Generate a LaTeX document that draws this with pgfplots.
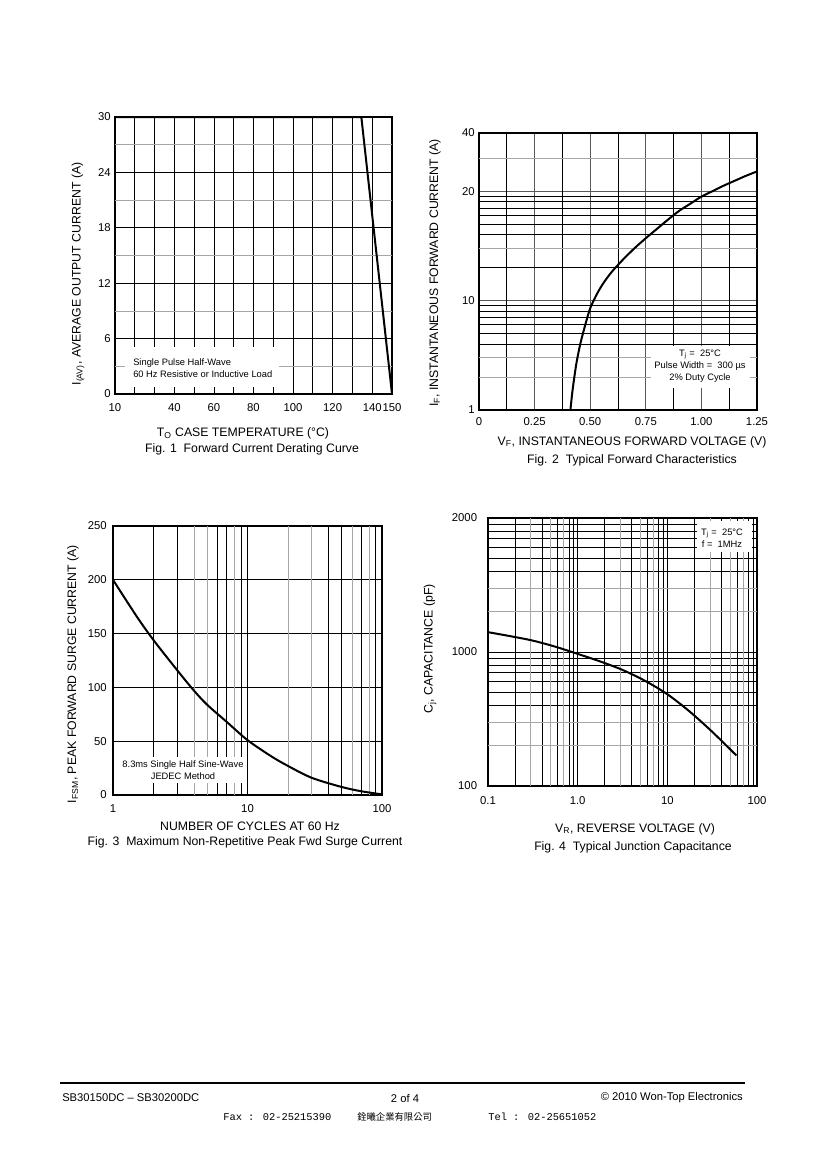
\documentclass[border=0pt]{standalone}
\usepackage{pgfplots}
\pgfplotsset{compat=1.18}
\usepackage{fontspec}
\setmainfont{Liberation Sans}
\newfontfamily\cjk{Noto Sans CJK TC}
\newfontfamily\mono{Liberation Mono}

\newcommand{\tickfont}{\fontsize{8.5}{10}\selectfont}
\newcommand{\lab}{\fontsize{9.2}{11}\selectfont}
\newcommand{\boxfont}{\fontsize{7}{9}\selectfont}
\newcommand{\footfont}{\fontsize{8.4}{10}\selectfont}

\pgfplotsset{
  sheet/.style={
    scale only axis,
    anchor=north west,
    axis line style={line width=1pt},
    major tick length=0pt,
    minor tick length=0pt,
    tick label style={font=\tickfont, inner sep=0pt},
    major grid style={black, line width=0.6pt},
    minor grid style={black, line width=0.6pt},
  },
  grayx/.style={extra x tick style={grid=major, major grid style={gray!70, line width=0.6pt}, xticklabel={}}},
  grayy/.style={extra y tick style={grid=major, major grid style={gray!70, line width=0.6pt}, yticklabel={}}},
  curve/.style={black, line width=1.5pt, no marks},
}

\begin{document}
\begin{tikzpicture}
\fill[white] (0,0) rectangle (615pt,-870pt);
\path[use as bounding box] (0,0) rectangle (615pt,-870pt);

% Fig. 1
\begin{axis}[sheet, at={(86.25pt,-87.75pt)}, width=207.75pt, height=207.75pt,
  xmin=10, xmax=150, ymin=0, ymax=30,
  xtick={10,20,...,150},
  xticklabels={10,,,40,,60,,80,,100,,120,,140,150},
  ytick={0,6,...,30}, yticklabels={0,6,12,18,24,30},
  grayy, extra y ticks={3,9,15,21,27},
  grid=major,
  xticklabel shift=7pt, yticklabel shift=3pt]
  \addplot[curve] coordinates {(10,30) (134.5,30) (150,0)};
\end{axis}

% Fig. 2
\begin{axis}[sheet, at={(359.25pt,-99.75pt)}, width=208.5pt, height=207.75pt,
  xmin=0, xmax=1.25, ymode=log, ymin=1, ymax=340,
  xtick={0,0.25,...,1.25}, xticklabels={0,0.25,0.50,0.75,1.00,1.25},
  major grid style={gray!70!black, line width=0.6pt},
  extra x ticks={0.125,0.375,0.625,0.875,1.125},
  extra x tick style={grid=major, major grid style={black, line width=0.6pt}, xticklabel={}},
  ytick={1,10,100,340}, yticklabels={1,10,20,40},
  minor ytick={4,5,6,7,8,9,20,40,50,60,70,80,90},
  grayy, extra y ticks={2,3,30,200},
  grid=both,
  xticklabel shift=5.5pt, yticklabel shift=3pt]
  \addplot[curve, smooth] coordinates {
    (0.411,1) (0.420,1.48) (0.430,2.09) (0.440,2.82) (0.455,3.98)
    (0.470,5.25) (0.485,6.76) (0.500,8.51) (0.525,10.96) (0.550,13.49)
    (0.575,16.03) (0.600,18.62) (0.625,21.18) (0.650,23.99) (0.700,30.20)
    (0.750,37.15) (0.800,45.19) (0.850,54.95) (0.900,66.07) (0.950,76.74)
    (1.000,89.13) (1.050,100.0) (1.100,112.2) (1.150,124.5) (1.200,138.0)
    (1.250,151.4)};
\end{axis}

% Fig. 3
\begin{axis}[sheet, at={(84.75pt,-394.5pt)}, width=201.75pt, height=201.75pt,
  xmode=log, xmin=1, xmax=100, ymin=0, ymax=250,
  xtick={1,10,100}, xticklabels={1,10,100},
  minor xtick={2,3,6,7,9,40,50,70,90},
  grayx, extra x ticks={4,5,8,20,30,60,80},
  ytick={0,50,...,250}, yticklabels={0,50,100,150,200,250},
  grid=both,
  xticklabel shift=7pt, yticklabel shift=4.5pt]
  \addplot[curve, smooth] coordinates {
    (1,200) (1.5,166) (2,144) (3,116) (4,97) (5,84) (7,68) (10,51)
    (15,36) (20,27) (30,16) (50,7.5) (70,3.5) (100,0.6)};
\end{axis}

% Fig. 4
\begin{axis}[sheet, at={(366pt,-388.5pt)}, width=201.75pt, height=201pt,
  xmode=log, ymode=log, xmin=0.1, xmax=100, ymin=100, ymax=10000,
  xtick={0.1,1,10,100}, xticklabels={0.1,1.0,10,100},
  minor xtick={0.2,0.4,0.6,0.8,0.9,2,4,6,8,9,20,40,60,80,90},
  grayx, extra x ticks={0.3,0.5,0.7,3,5,7,30,50,70},
  ytick={100,1000,10000}, yticklabels={100,1000,2000},
  minor ytick={400,500,600,700,800,900,4000,5000,6000,7000,8000,9000},
  grayy, extra y ticks={200,300,2000,3000},
  grid=both,
  xticklabel shift=8pt, yticklabel shift=8pt]
  \addplot[curve, smooth] coordinates {
    (0.1,1406) (0.178,1312) (0.316,1216) (0.562,1096) (1,968) (1.778,851)
    (3.162,735) (5.623,610) (10,484) (17.78,359) (31.62,254) (58.9,169)};
\end{axis}

\begin{scope}[x=0.75pt, y=-0.75pt]
  % note boxes
  \fill[white] (125,347) rectangle (279,387);
  \node[anchor=west, align=left, font=\boxfont, inner sep=0pt] at (133,368)
    {Single Pulse Half-Wave\\60 Hz Resistive or Inductive Load};
  \fill[white] (651,346) rectangle (750,388);
  \node[align=center, font=\boxfont, inner sep=0pt] at (700,366)
    {T\textsubscript{j} = \ 25°C\\Pulse Width = \ 300 µs\\2\% Duty Cycle};
  \fill[white] (119,757) rectangle (245,783);
  \node[align=center, font=\boxfont, inner sep=0pt] at (183,770)
    {8.3ms Single Half Sine-Wave\\JEDEC Method};
  \fill[white] (697,521) rectangle (752,552);
  \node[align=center, font=\boxfont, inner sep=0pt] at (722,538)
    {T\textsubscript{j} = \ 25°C\\f = \ 1MHz};

  % labels and captions
  \node[font=\lab, rotate=90] at (78,274) {I\textsubscript{(AV)}, AVERAGE OUTPUT CURRENT (A)};
  \node[font=\lab] at (243,433) {T\textsubscript{O} CASE TEMPERATURE (°C)};
  \node[font=\lab] at (252,449) {Fig. 1\ \ Forward Current Derating Curve};

  \node[font=\lab, rotate=90] at (435,273) {I\textsubscript{F}, INSTANTANEOUS FORWARD CURRENT (A)};
  \node[font=\lab] at (632,442) {V\textsubscript{F}, INSTANTANEOUS FORWARD VOLTAGE (V)};
  \node[font=\lab] at (632,460) {Fig. 2\ \ Typical Forward Characteristics};

  \node[font=\lab, rotate=90] at (73,674) {I\textsubscript{FSM}, PEAK FORWARD SURGE CURRENT (A)};
  \node[font=\lab] at (250,826) {NUMBER OF CYCLES AT 60 Hz};
  \node[font=\lab] at (245,842) {Fig. 3\ \ Maximum Non-Repetitive Peak Fwd Surge Current};

  \node[font=\lab, rotate=90] at (430,649) {C\textsubscript{j}, CAPACITANCE (pF)};
  \node[font=\lab] at (635,829) {V\textsubscript{R}, REVERSE VOLTAGE (V)};
  \node[font=\lab] at (633,847) {Fig. 4\ \ Typical Junction Capacitance};

  % footer
  \draw[line width=2.2pt] (60,1083) -- (745,1083);
  \node[anchor=west, font=\footfont, inner sep=0pt] at (62,1098) {SB30150DC – SB30200DC};
  \node[font=\footfont, inner sep=0pt] at (405,1098) {2 of 4};
  \node[anchor=east, font=\footfont, inner sep=0pt] at (743,1098) {© 2010 Won-Top Electronics};
  \node[anchor=west, font=\mono\fontsize{7.8}{9}\selectfont, inner sep=0pt] at (223,1117) {Fax : 02-25215390};
  \node[anchor=west, font=\cjk\fontsize{7}{9}\selectfont, inner sep=0pt] at (357,1117) {銓曦企業有限公司};
  \node[anchor=west, font=\mono\fontsize{7.8}{9}\selectfont, inner sep=0pt] at (488,1117) {Tel : 02-25651052};
\end{scope}
\end{tikzpicture}
\end{document}
